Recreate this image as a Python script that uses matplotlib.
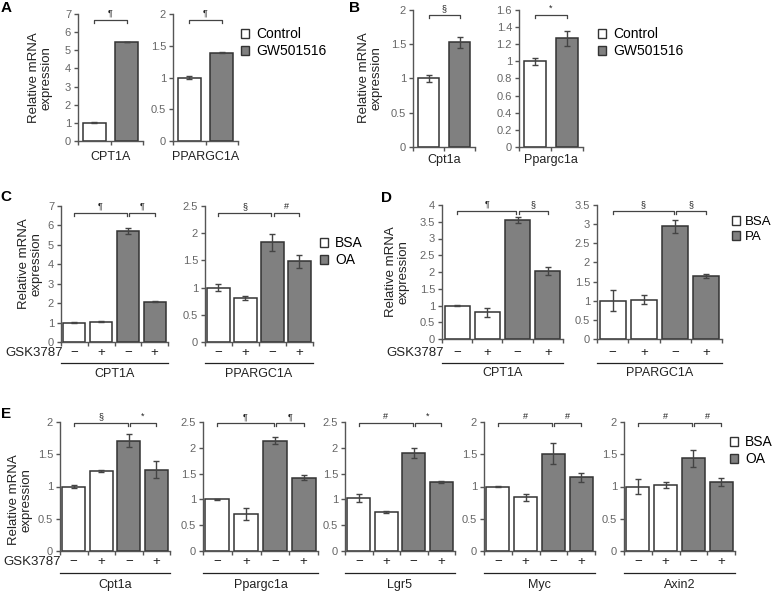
import numpy as np
import matplotlib
matplotlib.use('Agg')
import matplotlib.pyplot as plt
from matplotlib.patches import Patch
from matplotlib.ticker import FuncFormatter
from matplotlib import transforms

plt.rcParams['font.family'] = ['Liberation Sans', 'DejaVu Sans']

# ---- data ----
# A: human cells, GW501516
a_genes = ['CPT1A', 'PPARGC1A']
a_means = [[1.00, 5.45], [1.00, 1.39]]
a_errs = [[0.03, 0.02], [0.03, 0.01]]
a_ymax = [7, 2]
a_ystep = [1, 0.5]
a_sig = ['¶', '¶']
a_legend = ['Control', 'GW501516']

# B: mouse, GW501516
b_genes = ['Cpt1a', 'Ppargc1a']
b_means = [[1.00, 1.53], [1.00, 1.27]]
b_errs = [[0.05, 0.08], [0.04, 0.09]]
b_ymax = [2, 1.6]
b_ystep = [0.5, 0.2]
b_sig = ['§', '*']

# C: BSA / OA +- GSK3787
c_genes = ['CPT1A', 'PPARGC1A']
c_means = [[1.00, 1.05, 5.70, 2.08], [1.00, 0.81, 1.83, 1.48]]
c_errs = [[0.03, 0.03, 0.15, 0.04], [0.06, 0.04, 0.15, 0.12]]
c_ymax = [7, 2.5]
c_ystep = [1, 0.5]
c_sig = [['¶', '¶'], ['§', '#']]
c_legend = ['BSA', 'OA']

# D: BSA / PA +- GSK3787
d_genes = ['CPT1A', 'PPARGC1A']
d_means = [[1.00, 0.80, 3.55, 2.03], [1.00, 1.03, 2.95, 1.64]]
d_errs = [[0.02, 0.13, 0.10, 0.13], [0.27, 0.12, 0.17, 0.05]]
d_ymax = [4, 3.5]
d_ystep = [0.5, 0.5]
d_sig = [['¶', '§'], ['§', '§']]
d_legend = ['BSA', 'PA']

# E: organoids, BSA / OA +- GSK3787
e_genes = ['Cpt1a', 'Ppargc1a', 'Lgr5', 'Myc', 'Axin2']
e_means = [[1.00, 1.24, 1.71, 1.26],
           [1.00, 0.72, 2.14, 1.42],
           [1.02, 0.76, 1.90, 1.33],
           [1.00, 0.83, 1.51, 1.14],
           [1.00, 1.02, 1.44, 1.07]]
e_errs = [[0.02, 0.02, 0.10, 0.13],
          [0.01, 0.11, 0.06, 0.05],
          [0.08, 0.02, 0.10, 0.02],
          [0.01, 0.05, 0.16, 0.07],
          [0.11, 0.05, 0.13, 0.06]]
e_ymax = [2, 2.5, 2.5, 2, 2]
e_ystep = [0.5, 0.5, 0.5, 0.5, 0.5]
e_sig = [['§', '*'], ['¶', '¶'], ['#', '*'], ['#', '#'], ['#', '#']]
e_legend = ['BSA', 'OA']

gsk_signs = ['−', '+', '−', '+']

# ---- style ----
W, H = 773, 592
WHITE = 'white'
GRAY = '#808080'
EDGE = '#333333'
AXC = '#555555'
TXT = '#222222'

fig = plt.figure(figsize=(W / 100, H / 100), dpi=100)


def px_axes(l, r, t, b):
    return fig.add_axes([l / W, 1 - b / H, (r - l) / W, (b - t) / H])


def bar_panel(box, means, errs, ymax, ystep, sigs, br_frac):
    ax = px_axes(*box)
    hpx = box[3] - box[2]
    n = len(means)
    x = np.arange(n)
    if n == 2:
        colors, width = [WHITE, GRAY], 0.7
    else:
        colors, width = [WHITE, WHITE, GRAY, GRAY], 0.83
    ax.bar(x, means, width, color=colors, edgecolor=EDGE, linewidth=1.1,
           yerr=errs, error_kw=dict(ecolor='#444444', elinewidth=1,
                                    capsize=2, capthick=1), zorder=2)
    ax.set_xlim(-0.5, n - 0.5)
    ax.set_ylim(0, ymax)
    ax.set_yticks(np.arange(0, ymax + 1e-9, ystep))
    ax.yaxis.set_major_formatter(FuncFormatter(lambda v, p: f'{v:g}'))
    ax.set_xticks(np.arange(-0.5, n, 1.0))
    ax.set_xticklabels([])
    for s in ['top', 'right']:
        ax.spines[s].set_visible(False)
    for s in ['left', 'bottom']:
        ax.spines[s].set_color(AXC)
        ax.spines[s].set_linewidth(1)
    ax.tick_params(axis='both', direction='out', length=3, width=1,
                   color=AXC, labelcolor='#666666', labelsize=8, pad=2)

    # significance brackets
    tr = transforms.blended_transform_factory(ax.transData, ax.transAxes)
    tick = 3.0 / hpx
    if n == 2:
        spans = [(0, 1, sigs[0])]
    else:
        spans = [(0, 1.96, sigs[0][0]), (2.04, 3, sigs[0][1])]
    for x0, x1, sym in spans:
        ax.plot([x0, x0, x1, x1], [br_frac - tick, br_frac, br_frac, br_frac - tick],
                transform=tr, color='#444444', lw=0.9, clip_on=False)
        ax.annotate(sym, xy=((x0 + x1) / 2, br_frac), xycoords=tr,
                    xytext=(0, 1.5), textcoords='offset points',
                    ha='center', va='bottom', fontsize=6.5, color=TXT)
    return ax, tr, hpx


def gsk_rows(ax, tr, hpx, gene, sign_off, line_off, gene_off):
    for i, s in enumerate(gsk_signs):
        ax.text(i, -sign_off / hpx, s, transform=tr, ha='center', va='center',
                fontsize=9.5, color=TXT)
    ax.plot([0, 1], [-line_off / hpx] * 2, transform=ax.transAxes,
            color=TXT, lw=0.9, clip_on=False)
    ax.text(0.5, -gene_off / hpx, gene, transform=ax.transAxes,
            ha='center', va='center', fontsize=9, color=TXT)


def ylab(x, y):
    fig.text(x / W, 1 - y / H, 'Relative mRNA\nexpression', rotation=90,
             ha='center', va='center', fontsize=9.5, color=TXT,
             multialignment='center', linespacing=1.1)


def letter(x, y, s):
    fig.text(x / W, 1 - y / H, s, ha='center', va='center',
             fontsize=11, fontweight='bold', color='black')


def legend(x, y, labels, size=10, pad=0.5):
    handles = [Patch(facecolor=c, edgecolor=EDGE, linewidth=1) for c in [WHITE, GRAY]]
    fig.legend(handles, labels, loc='upper left',
               bbox_to_anchor=(x / W, 1 - y / H), frameon=False,
               fontsize=size, handlelength=0.6, handleheight=0.6,
               handletextpad=pad, borderpad=0, borderaxespad=0,
               labelspacing=0.25)


def gsk_label(x, y):
    fig.text(x / W, 1 - y / H, 'GSK3787', ha='right', va='center',
             fontsize=9.5, color=TXT)


# ---- A ----
for k, box in enumerate([(78, 143, 14, 141), (173, 238, 14, 141)]):
    ax, tr, hpx = bar_panel(box, a_means[k], a_errs[k], a_ymax[k], a_ystep[k],
                            [a_sig[k]], 0.953)
    ax.text(0.5, -16 / hpx, a_genes[k], transform=ax.transAxes,
            ha='center', va='center', fontsize=9, color=TXT)
ylab(40, 78)
letter(6, 8, 'A')
legend(241, 27, a_legend)

# ---- B ----
for k, box in enumerate([(413, 475, 10, 147), (519, 583, 10, 147)]):
    ax, tr, hpx = bar_panel(box, b_means[k], b_errs[k], b_ymax[k], b_ystep[k],
                            [b_sig[k]], 0.963)
    ax.text(0.5, -13 / hpx, b_genes[k], transform=ax.transAxes,
            ha='center', va='center', fontsize=9, color=TXT)
ylab(370, 78)
letter(355, 8, 'B')
legend(598, 27, a_legend)

# ---- C ----
for k, box in enumerate([(61, 168, 206, 342), (205, 313, 206, 342)]):
    ax, tr, hpx = bar_panel(box, c_means[k], c_errs[k], c_ymax[k], c_ystep[k],
                            [c_sig[k]], 0.949)
    gsk_rows(ax, tr, hpx, c_genes[k], 11, 21, 32)
ylab(30, 264)
letter(6, 197, 'C')
gsk_label(63, 353)
legend(320, 236, c_legend)

# ---- D ----
for k, box in enumerate([(442, 563, 205, 339), (597, 722, 205, 339)]):
    ax, tr, hpx = bar_panel(box, d_means[k], d_errs[k], d_ymax[k], d_ystep[k],
                            [d_sig[k]], 0.955)
    gsk_rows(ax, tr, hpx, d_genes[k], 14, 24, 34)
ylab(397, 272)
letter(387, 198, 'D')
gsk_label(444, 353)
legend(732, 216, d_legend, size=9.5, pad=0.4)

# ---- E ----
e_boxes = [(60, 170), (203, 318), (345, 455), (484, 595), (624, 735)]
for k, (l, r) in enumerate(e_boxes):
    ax, tr, hpx = bar_panel((l, r, 422, 551), e_means[k], e_errs[k], e_ymax[k],
                            e_ystep[k], [e_sig[k]], 0.99)
    gsk_rows(ax, tr, hpx, e_genes[k], 11, 22, 34)
ylab(20, 500)
letter(6, 414, 'E')
gsk_label(61, 562)
legend(730, 435, e_legend)

fig.savefig('out.png', dpi=100)
